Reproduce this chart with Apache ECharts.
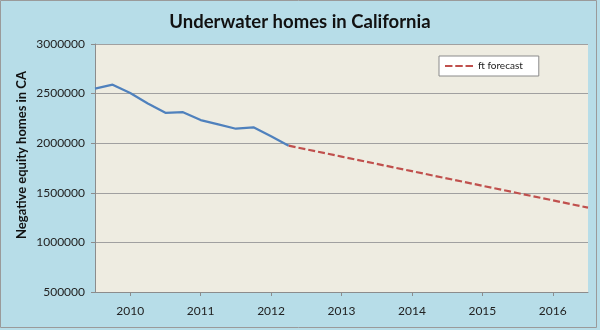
<!DOCTYPE html>
<html>
<head>
<meta charset="utf-8">
<script src="https://cdn.jsdelivr.net/npm/echarts@6/dist/echarts.min.js"></script>
<style>
html,body{margin:0;padding:0;background:#B7DDE8;}
#chart{width:600px;height:330px;}
</style>
</head>
<body>
<div id="chart"></div>
<script>
var yearTicks = [2010, 2011, 2012, 2013, 2014, 2015, 2016];
var actualYears = [2009.5, 2009.75, 2010.0, 2010.25, 2010.5, 2010.75, 2011.0, 2011.25, 2011.5, 2011.75, 2012.0, 2012.25];
var actualValues = [2550000, 2590000, 2506000, 2400000, 2306000, 2313000, 2233000, 2190000, 2146000, 2160000, 2070000, 1975000];
var forecastYears = [2012.25, 2013, 2014, 2015, 2016, 2016.5];
var forecastValues = [1975000, 1865000, 1718000, 1571000, 1424000, 1350000];
var yTicks = [500000, 1000000, 1500000, 2000000, 2500000, 3000000];

function pairs(xs, ys){ return xs.map(function(x,i){ return [x, ys[i]]; }); }

var chart = echarts.init(document.getElementById('chart'), null, {renderer:'canvas'});
chart.setOption({
  backgroundColor: '#B7DDE8',
  animation: false,
  title: {
    text: 'Underwater homes in California',
    left: 'center', top: 8,
    textStyle: {fontFamily: 'Lato', fontWeight: 'bold', fontSize: 18.5, color: '#111'}
  },
  graphic: [{
    type: 'rect', shape: {x: 0.5, y: 0.5, width: 596, height: 327},
    style: {fill: 'none', stroke: '#9a9a9a', lineWidth: 1}, silent: true
  }, {
    type: 'text', x: 22, y: 155, rotation: Math.PI / 2,
    style: {text: 'Negative equity homes in CA', fontFamily: 'Lato', fontWeight: 'bold', fontSize: 13,
      fill: '#111', align: 'center', verticalAlign: 'middle'}, silent: true
  }],
  legend: {
    data: ['ft forecast'],
    left: 439, top: 56,
    backgroundColor: '#ffffff', borderColor: '#8a8a8a', borderWidth: 1, borderRadius: 0,
    padding: [5, 16, 5, 6],
    icon: 'path://M0,0 L8,0 L8,2.4 L0,2.4 Z M11,0 L19,0 L19,2.4 L11,2.4 Z M22,0 L30,0 L30,2.4 L22,2.4 Z',
    itemWidth: 28, itemHeight: 2.4, itemGap: 8,
    textStyle: {fontFamily: 'Lato', fontSize: 10, color: '#222'}
  },
  grid: {left: 95, right: 12, top: 44, bottom: 38, show: true, backgroundColor: '#EEECE1', borderWidth: 0},
  xAxis: {
    type: 'value', min: 2009.5, max: 2016.5,
    axisLine: {show: true, lineStyle: {color: '#8c8c8c', width: 1}},
    axisTick: {show: true, customValues: yearTicks, length: 4, lineStyle: {color: '#8c8c8c'}},
    axisLabel: {customValues: yearTicks, formatter: function(v){ return String(Math.round(v)); },
      fontFamily: 'Lato', fontSize: 12, color: '#222', margin: 13},
    splitLine: {show: false}
  },
  yAxis: {
    type: 'value', min: yTicks[0], max: yTicks[yTicks.length-1], interval: 500000,
    axisLine: {show: true, lineStyle: {color: '#8c8c8c', width: 1}},
    axisTick: {show: true, length: 4, lineStyle: {color: '#8c8c8c'}},
    axisLabel: {fontFamily: 'Lato', fontSize: 12, color: '#222', margin: 10,
      formatter: function(v){ return String(v); }},
    splitLine: {show: true, lineStyle: {color: '#a0a0a0', width: 1}}
  },
  series: [{
    name: 'actual', type: 'line', data: pairs(actualYears, actualValues),
    symbol: 'none', lineStyle: {color: '#4F81BD', width: 2.2}, itemStyle: {color: '#4F81BD'}
  }, {
    name: 'ft forecast', type: 'line', data: pairs(forecastYears, forecastValues),
    symbol: 'none', lineStyle: {color: '#C0504D', width: 2.2, type: [7, 3]}, itemStyle: {color: '#C0504D'}
  }]
});
</script>
</body>
</html>
